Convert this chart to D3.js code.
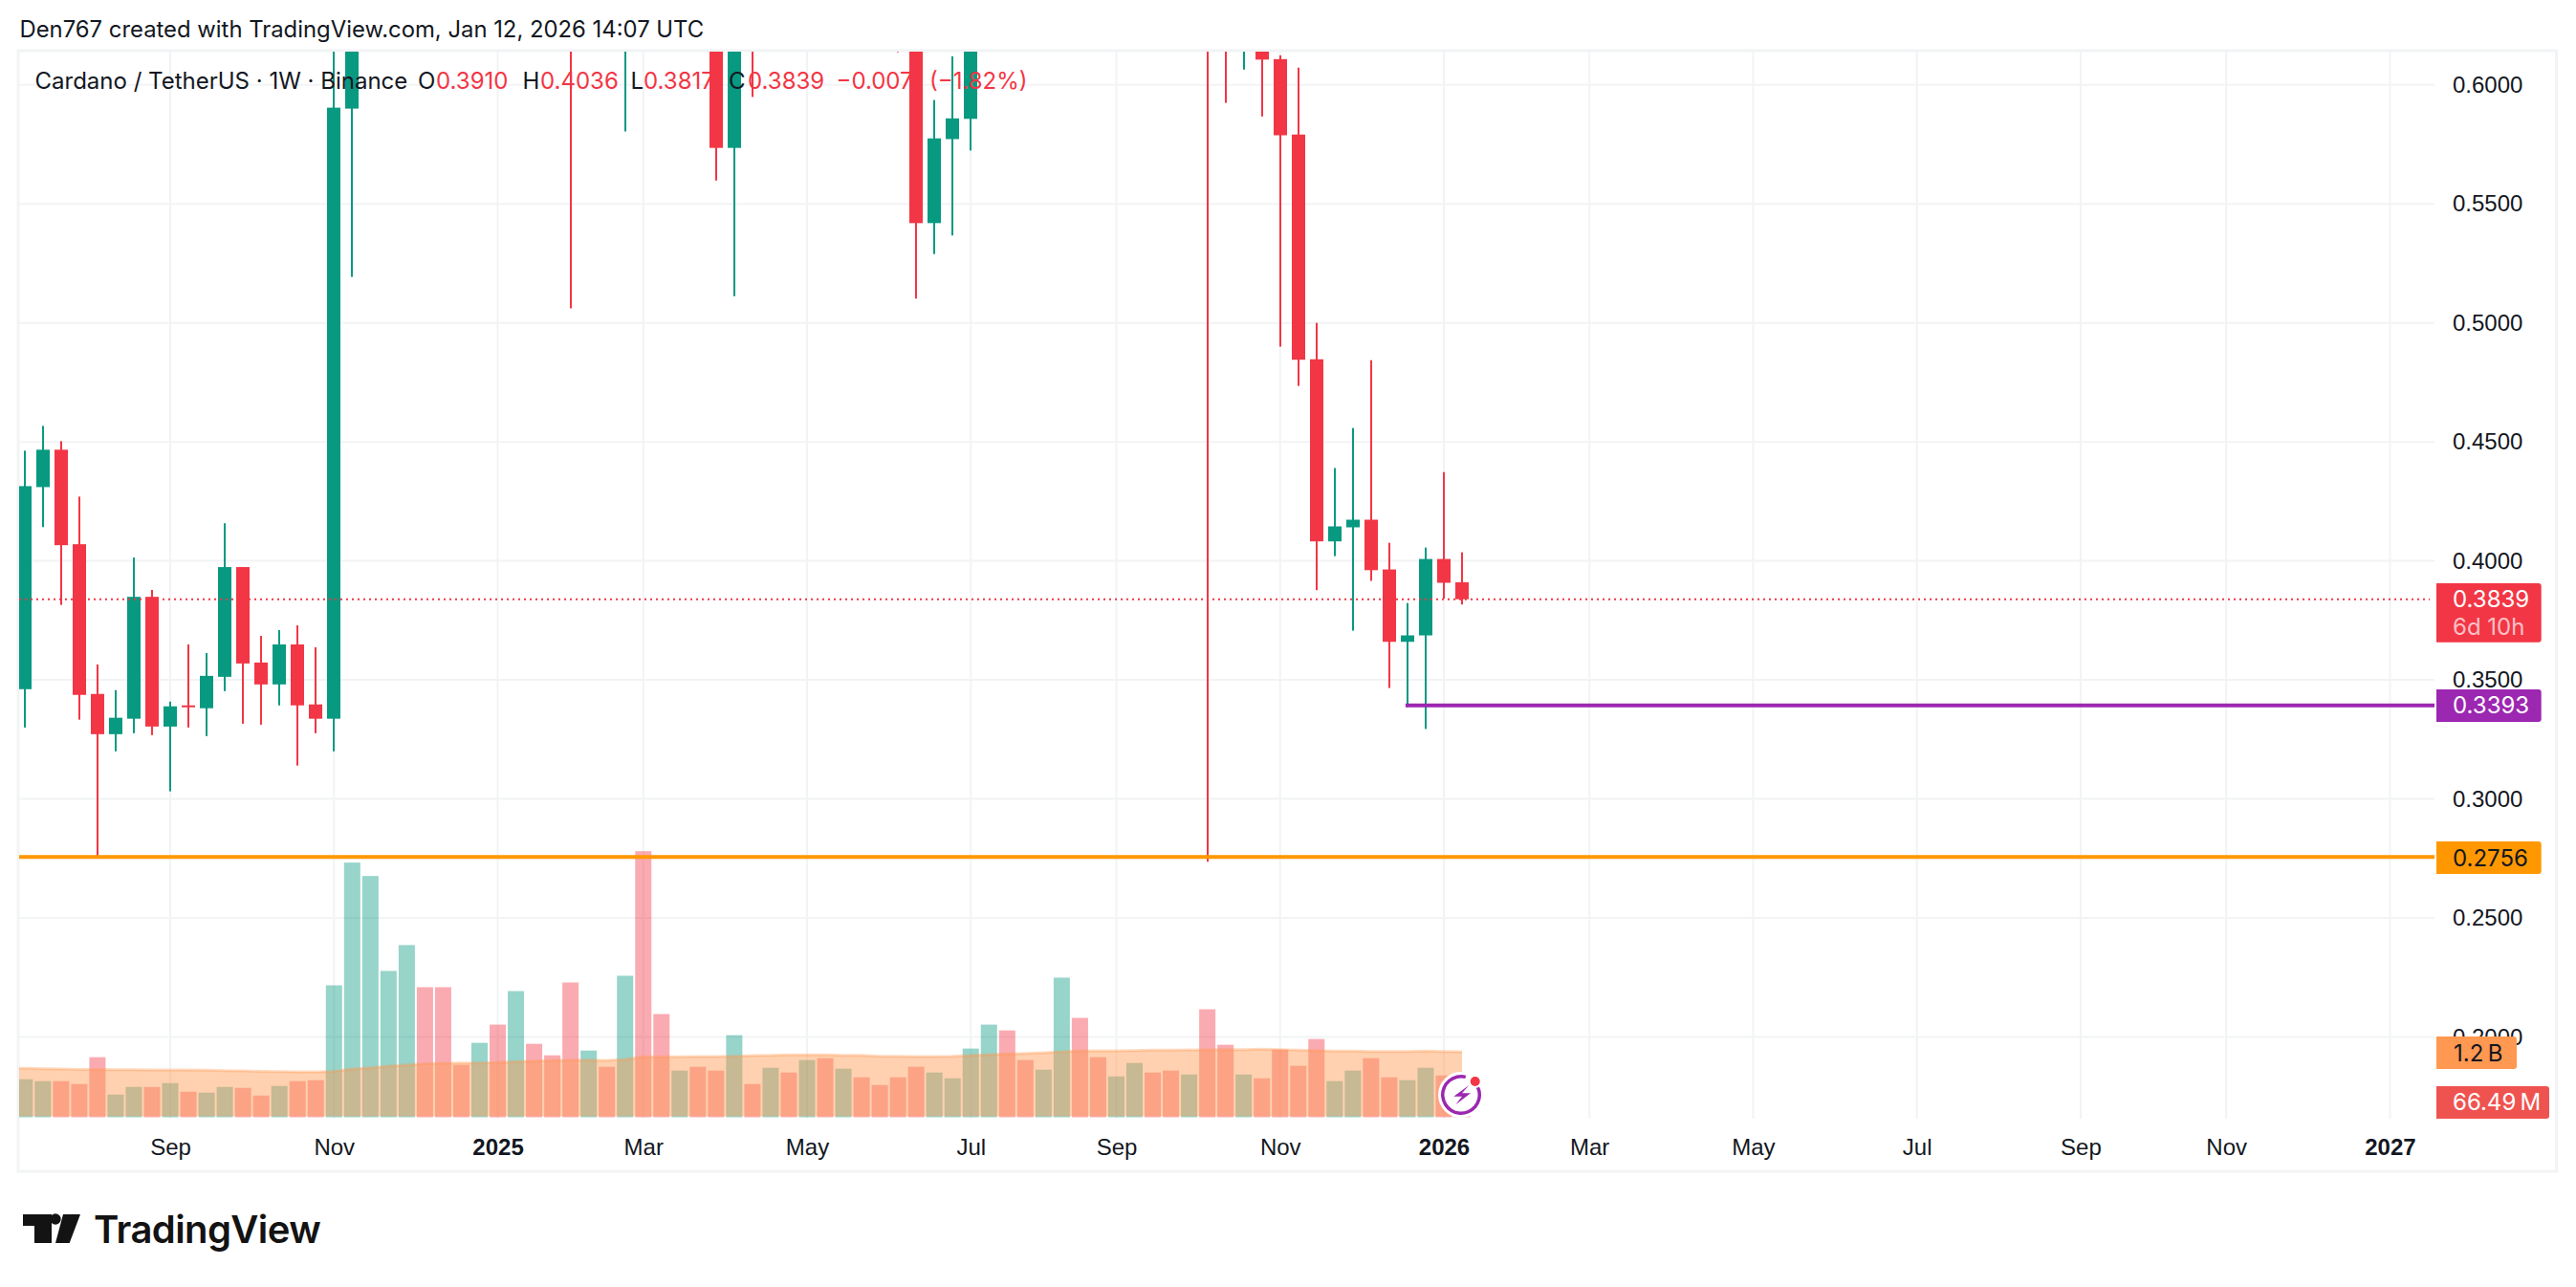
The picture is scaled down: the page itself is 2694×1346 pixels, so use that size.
<!DOCTYPE html>
<html>
<head>
<meta charset="utf-8">
<script src="https://cdnjs.cloudflare.com/ajax/libs/d3/7.8.5/d3.min.js"></script>
<style>
  html, body { margin: 0; background: #fff; }
  svg { display: block; font-family: Inter, "Noto Sans", sans-serif; }
  .price-axis text, .time-axis text { font-size: 24px; fill: #131722; }
  .time-axis text.year { font-weight: 700; }
</style>
</head>
<body>
<div class="chart"></div>
<script>
// weekly candles, first bar is the week of 8 Jul 2024. Values above ~0.614 are off the chart and only estimated
const opens = [.3461,.4310,.4467,.4070,.3441,.3272,.3337,.3849,.3304,.3393,.3381,.3513,.3974,.3573,.3481,.3649,.3397,.3337,.5900,.78,
  1.00,1.09,1.24,1.05,.96,.88,.95,.90,.98,.95,.94,.68,.76,.65,.95,.72,.65,.73,.66,.5735,
  .68,.63,.72,.66,.74,.70,.77,.68,.66,.64,.5419,.5772,.5857,.65,.84,.77,.70,.78,.92,.86,
  .82,.84,.88,.81,.80,.84,.70,.65,.69,.6108,.5791,.4847,.4082,.4141,.4173,.3964,.3660,.3687,.4008,.3910];
const highs = [.4463,.4567,.4503,.4270,.3565,.3457,.4014,.3878,.3409,.3649,.3613,.4158,.3974,.3685,.3709,.3729,.3637,.62,.79,1.15,
  1.16,1.32,1.33,1.15,1.02,.97,1.05,1.03,1.05,.98,1.02,.78,.80,1.17,1.00,.77,.75,.74,.75,.72,
  .73,.75,.79,.78,.77,.84,.78,.74,.72,.68,.5936,.6120,.69,.86,.93,.80,.79,1.02,.98,.88,
  .89,.91,.92,.87,.89,.89,.72,.72,.71,.6124,.6072,.5000,.4390,.4558,.4843,.4076,.3823,.4056,.4373,.4036];
const lows = [.3300,.4142,.3815,.3333,.2757,.3200,.3276,.3268,.3032,.3300,.3264,.3453,.3316,.3312,.3393,.3140,.3276,.3200,.5193,.72,
  .90,1.00,.98,.83,.84,.84,.85,.89,.88,.90,.5061,.64,.63,.5804,.65,.62,.63,.63,.5598,.5112,
  .5949,.62,.64,.63,.66,.68,.65,.64,.6137,.5102,.5289,.5367,.5724,.64,.75,.68,.68,.75,.83,.79,
  .80,.82,.79,.78,.76,.2736,.5924,.6064,.5867,.4900,.4735,.3877,.4020,.3707,.3916,.3466,.3386,.3294,.3841,.3817];
const closes = [.4314,.4467,.4066,.3437,.3272,.3341,.3849,.3304,.3389,.3385,.3517,.3974,.3569,.3481,.3649,.3393,.3337,.5904,.78,1.08,
  1.09,1.24,1.05,.96,.88,.95,.90,.98,.95,.94,.68,.76,.65,.95,.72,.65,.73,.66,.5735,.68,
  .63,.72,.66,.74,.70,.77,.68,.66,.64,.5419,.5775,.5859,.65,.84,.77,.70,.78,.92,.86,.82,
  .84,.88,.81,.80,.84,.70,.65,.69,.6106,.5788,.4845,.4082,.4145,.4173,.3961,.3660,.3687,.4008,.3908,.3839];

// volume in millions, and its moving average (one extra leading value for the week before the first bar)
const volumes = [697,662,662,609,1101,416,556,556,626,468,451,556,539,398,574,662,679,2418,4666,4420,
  2681,3155,2383,2383,960,1364,1698,2312,1346,1136,2470,1223,925,2593,4876,1891,855,925,855,1504,
  609,907,820,1048,1083,890,732,591,732,925,820,714,1259,1698,1592,1048,872,2558,1821,1101,
  749,995,820,855,784,1979,1329,784,714,1241,943,1434,662,855,1083,732,679,907,767,66.49];
const volumeMA = [900,896,890,884,878,878,872,872,866,866,866,861,855,849,843,837,831,831,843,884,907,
  937,960,983,989,995,995,1001,1019,1030,1042,1048,1048,1042,1060,1106,1106,1106,1112,1112,1118,
  1130,1136,1142,1142,1142,1136,1136,1118,1118,1112,1112,1118,1136,1147,1159,1171,1183,1200,1218,1218,
  1218,1223,1229,1229,1235,1235,1241,1241,1247,1241,1229,1223,1212,1212,1206,1206,1206,1212,1206,1200];

const priceTicks = [.6,.55,.5,.45,.4,.35,.3,.25,.2];
const timeTicks = ['2024-09-02','2024-11-04','2025-01-06','2025-03-03','2025-05-05','2025-07-07','2025-09-01','2025-11-03','2026-01-05','2026-03-02','2026-05-04','2026-07-06','2026-09-07','2026-11-02','2027-01-04'];
const timeLabels = ['Sep','Nov','2025','Mar','May','Jul','Sep','Nov','2026','Mar','May','Jul','Sep','Nov','2027'];

const lastPrice = 0.3839;
const lowLevel = 0.3393;
const supportLevel = 0.2756;

const GREEN = '#089981';
const RED = '#f23645';
const GRID = '#f2f3f5';

const width = 2694;
const height = 1346;
const pane = { left: 20, right: 2546, top: 54, bottom: 1170 };

const svg = d3.select('.chart').append('svg').attr('width', width).attr('height', height);

svg.append('clipPath').attr('id', 'pane').append('rect')
  .attr('x', pane.left).attr('y', pane.top)
  .attr('width', pane.right - pane.left).attr('height', pane.bottom - pane.top);

const firstWeek = new Date(Date.UTC(2024, 6, 8));
const lastWeek = new Date(Date.UTC(2026, 0, 12));
const weekMs = 7 * 24 * 3600 * 1000;
const dates = closes.map((d, i) => new Date(+firstWeek + i * weekMs));
const maDates = volumeMA.map((d, i) => new Date(+firstWeek + (i - 1) * weekMs));
const tickDates = timeTicks.map(d => new Date(d + 'T00:00:00Z'));

const x = d3.scaleUtc().domain([firstWeek, lastWeek]).range([25.8, 1529]);
const y = d3.scaleLinear().domain([.2, .6]).range([1084.5, 88.7]);
const yVol = d3.scaleLinear().domain([0, 1200]).range([1168.5, 1100]);

// frame
svg.append('rect')
  .attr('x', 19).attr('y', 53).attr('width', 2654.5).attr('height', 1172)
  .attr('fill', 'none').attr('stroke', GRID).attr('stroke-width', 3);

const plot = svg.append('g').attr('clip-path', 'url(#pane)');

// grid
plot.selectAll('.vgrid').data(tickDates).enter().append('line')
  .attr('x1', d => x(d)).attr('x2', d => x(d))
  .attr('y1', pane.top).attr('y2', pane.bottom)
  .attr('stroke', GRID).attr('stroke-width', 2);
plot.selectAll('.hgrid').data(priceTicks).enter().append('line')
  .attr('x1', pane.left).attr('x2', pane.right)
  .attr('y1', d => y(d)).attr('y2', d => y(d))
  .attr('stroke', GRID).attr('stroke-width', 2);

// volume
plot.selectAll('.vol').data(volumes).enter().append('rect')
  .attr('x', (d, i) => x(dates[i]) - 8.5)
  .attr('width', 17)
  .attr('y', d => yVol(d))
  .attr('height', d => yVol(0) - yVol(d))
  .attr('fill', (d, i) => (closes[i] >= opens[i] ? GREEN : RED))
  .attr('fill-opacity', 0.42);

const maArea = d3.area()
  .x((d, i) => x(maDates[i]))
  .y0(yVol(0) - 1)
  .y1(d => yVol(d));
const maLine = d3.line()
  .x((d, i) => x(maDates[i]))
  .y(d => yVol(d));
plot.append('path').attr('d', maArea(volumeMA)).attr('fill', '#ff9850').attr('fill-opacity', 0.45);
plot.append('path').attr('d', maLine(volumeMA)).attr('fill', 'none').attr('stroke', '#ff9850').attr('stroke-opacity', 0.35).attr('stroke-width', 3);

// candles
const candle = plot.selectAll('.candle').data(closes).enter().append('g')
  .attr('fill', (d, i) => (d >= opens[i] ? GREEN : RED));
candle.append('rect')
  .attr('x', (d, i) => Math.round(x(dates[i])) - 1)
  .attr('width', 2)
  .attr('y', (d, i) => y(highs[i]))
  .attr('height', (d, i) => y(lows[i]) - y(highs[i]));
candle.append('rect')
  .attr('x', (d, i) => Math.round(x(dates[i])) - 7)
  .attr('width', 14)
  .attr('y', (d, i) => y(Math.max(d, opens[i])))
  .attr('height', (d, i) => Math.max(2, Math.abs(y(d) - y(opens[i]))));

// levels
plot.append('line')
  .attr('x1', pane.left).attr('x2', 2541)
  .attr('y1', y(lastPrice)).attr('y2', y(lastPrice))
  .attr('stroke', RED).attr('stroke-width', 2).attr('stroke-dasharray', '2 4');
plot.append('line')
  .attr('x1', x(dates[76]) - 2).attr('x2', pane.right)
  .attr('y1', y(lowLevel)).attr('y2', y(lowLevel))
  .attr('stroke', '#9c27b0').attr('stroke-width', 4);
plot.append('line')
  .attr('x1', pane.left).attr('x2', pane.right)
  .attr('y1', y(supportLevel)).attr('y2', y(supportLevel))
  .attr('stroke', '#ff9800').attr('stroke-width', 4);

// axes
const priceAxis = svg.append('g')
  .attr('class', 'price-axis')
  .attr('transform', 'translate(2565, 0)')
  .call(d3.axisRight(y).tickValues(priceTicks).tickFormat(d3.format('.4f')).tickSize(0).tickPadding(0));
priceAxis.select('.domain').remove();

const timeAxis = svg.append('g')
  .attr('class', 'time-axis')
  .attr('transform', 'translate(0, 1191)')
  .call(d3.axisBottom(x).tickValues(tickDates).tickFormat((d, i) => timeLabels[i]).tickSize(0).tickPadding(0));
timeAxis.select('.domain').remove();
timeAxis.selectAll('text').classed('year', (d, i) => /^\d+$/.test(timeLabels[i]));

// tags on the price scale
function tag(top, bottom, right, color) {
  const r = 3;
  svg.append('path')
    .attr('d', `M2548,${top}H${right - r}Q${right},${top} ${right},${top + r}V${bottom - r}Q${right},${bottom} ${right - r},${bottom}H2548Z`)
    .attr('fill', color);
}
function tagText(label, xPos, baseline, color) {
  svg.append('text').attr('x', xPos).attr('y', baseline)
    .attr('fill', color).style('font-size', '24px').text(label);
}
tag(610, 671.7, 2657.7, RED);
tagText('0.3839', 2565, 634.5, '#fff');
tagText('6d 10h', 2565, 663.5, '#fbc0c5');
tag(721, 755, 2657.7, '#9c27b0');
tagText('0.3393', 2565, 746, '#fff');
tag(880, 914, 2657.7, '#ff9800');
tagText('0.2756', 2565, 905.5, '#131722');
tag(1084, 1118, 2632, '#ff9850');
tagText('1.2\u2009B', 2566, 1110, '#131722');
tag(1136, 1170, 2666, '#ef5350');
tagText('66.49\u2009M', 2565, 1161, '#fff');

// header and legend
svg.append('text').attr('x', 20.5).attr('y', 39).attr('fill', '#131722').style('font-size', '23.85px')
  .text('Den767 created with TradingView.com, Jan 12, 2026 14:07 UTC');
svg.append('text').attr('x', 36.5).attr('y', 93).attr('fill', '#131722').style('font-size', '24px')
  .text('Cardano / TetherUS · 1W · Binance');
const legendKeys = ['O', 'H', 'L', 'C'];
const legendValues = ['0.3910', '0.4036', '0.3817', '0.3839'];
const legendKeyX = [437, 546.5, 659.5, 762];
const legendValueX = [456, 565, 673, 782];
legendKeys.forEach((k, i) => {
  svg.append('text').attr('x', legendKeyX[i]).attr('y', 93).attr('fill', '#131722').style('font-size', '24px').text(k);
  svg.append('text').attr('x', legendValueX[i]).attr('y', 93).attr('fill', RED).style('font-size', '24px').text(legendValues[i]);
});
svg.append('text').attr('x', 874.5).attr('y', 93).attr('fill', RED).style('font-size', '24px').text('−0.0071');
svg.append('text').attr('x', 972).attr('y', 93).attr('fill', RED).style('font-size', '24px').text('(−1.82%)');

// lightning badge on the last bar
const badge = svg.append('g').attr('transform', 'translate(1528, 1145)');
badge.append('circle').attr('r', 24).attr('fill', '#fff');
badge.append('path')
  .attr('d', d3.arc().innerRadius(17.5).outerRadius(21).startAngle(0.85).endAngle(2 * Math.PI + 0.25)())
  .attr('fill', '#9c27b0');
badge.append('path')
  .attr('d', 'M8.3,-10L-7.7,1.7H1L-5.7,10.3L10,-1.7H1Z')
  .attr('fill', '#9c27b0');
badge.append('circle').attr('cx', 14.7).attr('cy', -14).attr('r', 7).attr('fill', '#fff');
badge.append('circle').attr('cx', 14.7).attr('cy', -14).attr('r', 5).attr('fill', RED);

// logo
svg.append('path')
  .attr('d', 'M24,1270H54V1300H36V1282H24Z M66,1270H84L72.7,1300H58Z')
  .attr('fill', '#131313');
svg.append('circle').attr('cx', 58).attr('cy', 1275).attr('r', 5.7).attr('fill', '#131313');
svg.append('text').attr('x', 98).attr('y', 1300).attr('fill', '#131313')
  .style('font-size', '40px').style('font-weight', 600).style('letter-spacing', '-0.6px').text('TradingView');
</script>
</body>
</html>
